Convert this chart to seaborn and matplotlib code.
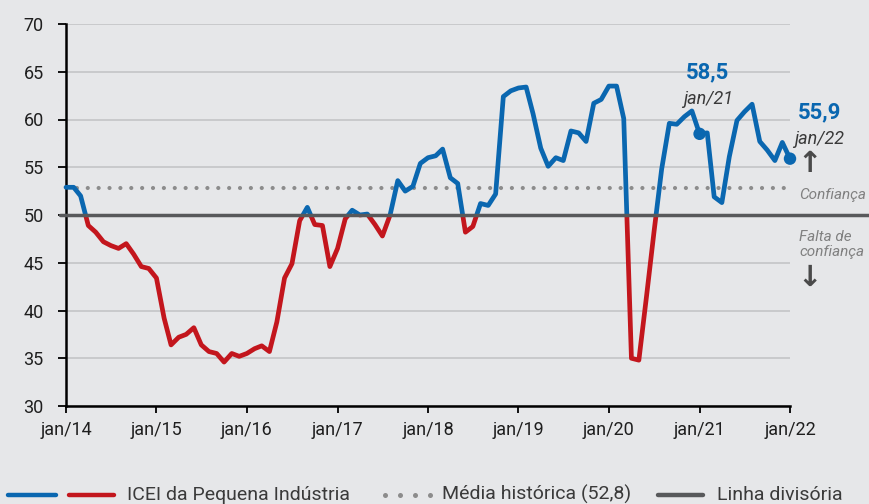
import matplotlib
matplotlib.use("Agg")
import pandas as pd
import matplotlib.pyplot as plt
import matplotlib.transforms as mtransforms
from matplotlib.patches import Rectangle
from matplotlib.lines import Line2D
import seaborn as sns

# ICEI da Pequena Industria, monthly, jan/14 .. jan/22
icei = [52.9, 52.9, 52.0, 48.9, 48.2, 47.2, 46.8, 46.5, 47.0, 45.9, 44.6, 44.4,
        43.4, 39.2, 36.4, 37.2, 37.5, 38.2, 36.4, 35.7, 35.5, 34.6, 35.5, 35.2,
        35.5, 36.0, 36.3, 35.7, 38.8, 43.4, 44.9, 49.4, 50.8, 49.0, 48.9, 44.6,
        46.5, 49.6, 50.5, 50.0, 50.1, 49.0, 47.8, 50.0, 53.6, 52.5, 53.0, 55.4,
        56.0, 56.2, 56.9, 53.9, 53.3, 48.2, 48.8, 51.2, 51.0, 52.2, 62.4, 63.0,
        63.3, 63.4, 60.6, 57.0, 55.1, 56.0, 55.7, 58.8, 58.6, 57.7, 61.7, 62.1,
        63.5, 63.5, 60.1, 35.0, 34.8, 41.5, 48.2, 54.8, 59.6, 59.5, 60.3, 60.9,
        58.5, 58.6, 51.9, 51.3, 56.1, 59.9, 60.8, 61.6, 57.7, 56.8, 55.7, 57.6,
        55.9]
media = 52.8
divisa = 50
hl_dates = ["2021-01-01", "2022-01-01"]
hl_labels = ["jan/21", "jan/22"]
tick_labels = ["jan/14", "jan/15", "jan/16", "jan/17", "jan/18",
               "jan/19", "jan/20", "jan/21", "jan/22"]
y_ticks = [30, 35, 40, 45, 50, 55, 60, 65, 70]

BLUE = "#0a67b0"
RED = "#c3161d"
BG = "#e6e7e9"
DARK = "#58595b"

dates = pd.date_range("2014-01-01", periods=len(icei), freq="MS")
df = pd.DataFrame({"mes": dates, "icei": icei})

sns.set_theme(style="whitegrid", rc={"axes.facecolor": BG, "figure.facecolor": BG,
                                     "grid.color": "#c6c7c9", "grid.linewidth": 1.3})
plt.rcParams["font.family"] = ["Roboto", "DejaVu Sans"]

fig = plt.figure(figsize=(8.69, 5.04), dpi=100)
ax = fig.add_axes([66 / 869, 1 - 406 / 504, 724 / 869, 382 / 504])

# same line twice, clipped above / below the 50 line
sns.lineplot(data=df, x="mes", y="icei", color=BLUE, linewidth=3.4, ax=ax,
             zorder=3, solid_joinstyle="round")
sns.lineplot(data=df, x="mes", y="icei", color=RED, linewidth=3.4, ax=ax,
             zorder=3, solid_joinstyle="round")
upper, lower = ax.lines[-2], ax.lines[-1]
trans = mtransforms.blended_transform_factory(ax.transAxes, ax.transData)
upper.set_clip_path(Rectangle((-0.05, divisa), 1.1, 100, transform=trans))
lower.set_clip_path(Rectangle((-0.05, divisa - 100), 1.1, 100, transform=trans))

ax.axhline(media, color="#8c8c8c", lw=3.0, ls=(0, (0.01, 2.6)),
           dash_capstyle="round", zorder=2)
ax.axhline(divisa, xmin=-6 / 724, xmax=803 / 724, color=DARK, lw=2.5,
           clip_on=False, zorder=4)

# highlighted points
hl = df.set_index("mes").loc[pd.to_datetime(hl_dates), "icei"]
sns.scatterplot(x=hl.index, y=hl.values, color=BLUE, s=80, edgecolor="none",
                ax=ax, zorder=5, clip_on=False)
offsets = [((5.5, 44), (5.8, 25)), ((21, 33), (21, 14))]
for (d, v), lab, (o1, o2) in zip(hl.items(), hl_labels, offsets):
    ax.annotate(f"{v:.1f}".replace(".", ","), xy=(d, v), xytext=o1,
                textcoords="offset points", ha="center", va="center",
                fontsize=16, fontweight="bold", color=BLUE, annotation_clip=False)
    ax.annotate(lab, xy=(d, v), xytext=o2, textcoords="offset points",
                ha="center", va="center", fontsize=13, style="italic",
                color="#3a3a3a", annotation_clip=False)

# side notes
ax.text(1.013, 52.1, "Confiança", transform=trans, fontsize=11, style="italic",
        color="#808080", va="center", ha="left", clip_on=False)
ax.text(1.013, 46.9, "Falta de\nconfiança", transform=trans, fontsize=11,
        style="italic", color="#808080", va="center", ha="left",
        linespacing=1.15, clip_on=False)
ax.text(1.0276, 55.3, "↑", transform=trans, fontsize=21, fontweight="bold",
        family="DejaVu Sans", color="#4a4a4a", ha="center", va="center")
ax.text(1.0276, 43.4, "↓", transform=trans, fontsize=21, fontweight="bold",
        family="DejaVu Sans", color="#4a4a4a", ha="center", va="center")

ax.set_xlim(dates[0], dates[-1])
ax.set_ylim(30, 70)
ax.set_yticks(y_ticks)
ax.set_xticks(pd.date_range(dates[0], dates[-1], freq="YS"))
ax.set_xticklabels(tick_labels)
ax.set_xlabel("")
ax.set_ylabel("")
ax.xaxis.grid(False)
ax.yaxis.grid(True)
for s in ["top", "right"]:
    ax.spines[s].set_visible(False)
for s in ["left", "bottom"]:
    ax.spines[s].set_color("black")
    ax.spines[s].set_linewidth(1.8)
ax.tick_params(axis="y", left=True, length=6, width=1.3, color="black", pad=10,
               labelsize=13, labelcolor="#1f1f1f")
ax.tick_params(axis="x", bottom=True, length=5, width=1.3, color="black", pad=6,
               labelsize=13, labelcolor="#1f1f1f")

# legend drawn by hand along the bottom edge
def fx(x):
    return x / 869

def fy(y):
    return 1 - y / 504

ly = 495
fig.add_artist(Line2D([fx(8), fx(56)], [fy(ly)] * 2, color=BLUE, lw=3.2,
                      solid_capstyle="round"))
fig.add_artist(Line2D([fx(69), fx(114)], [fy(ly)] * 2, color=RED, lw=3.2,
                      solid_capstyle="round"))
fig.add_artist(Line2D([fx(x) for x in (385, 400, 415, 430)], [fy(ly)] * 4,
                      ls="none", marker="o", ms=3.6, color="#8c8c8c", mec="none"))
fig.add_artist(Line2D([fx(658), fx(703)], [fy(ly)] * 2, color=DARK, lw=3.2,
                      solid_capstyle="round"))
leg_kw = dict(fontsize=14, color="#3a3a3a", va="baseline", ha="left")
fig.text(fx(127), fy(500), "ICEI da Pequena Indústria", **leg_kw)
fig.text(fx(442), fy(500), f"Média histórica ({media})".replace(".", ","), **leg_kw)
fig.text(fx(717), fy(500), "Linha divisória", **leg_kw)

fig.savefig("out.png", dpi=100, facecolor=BG)
